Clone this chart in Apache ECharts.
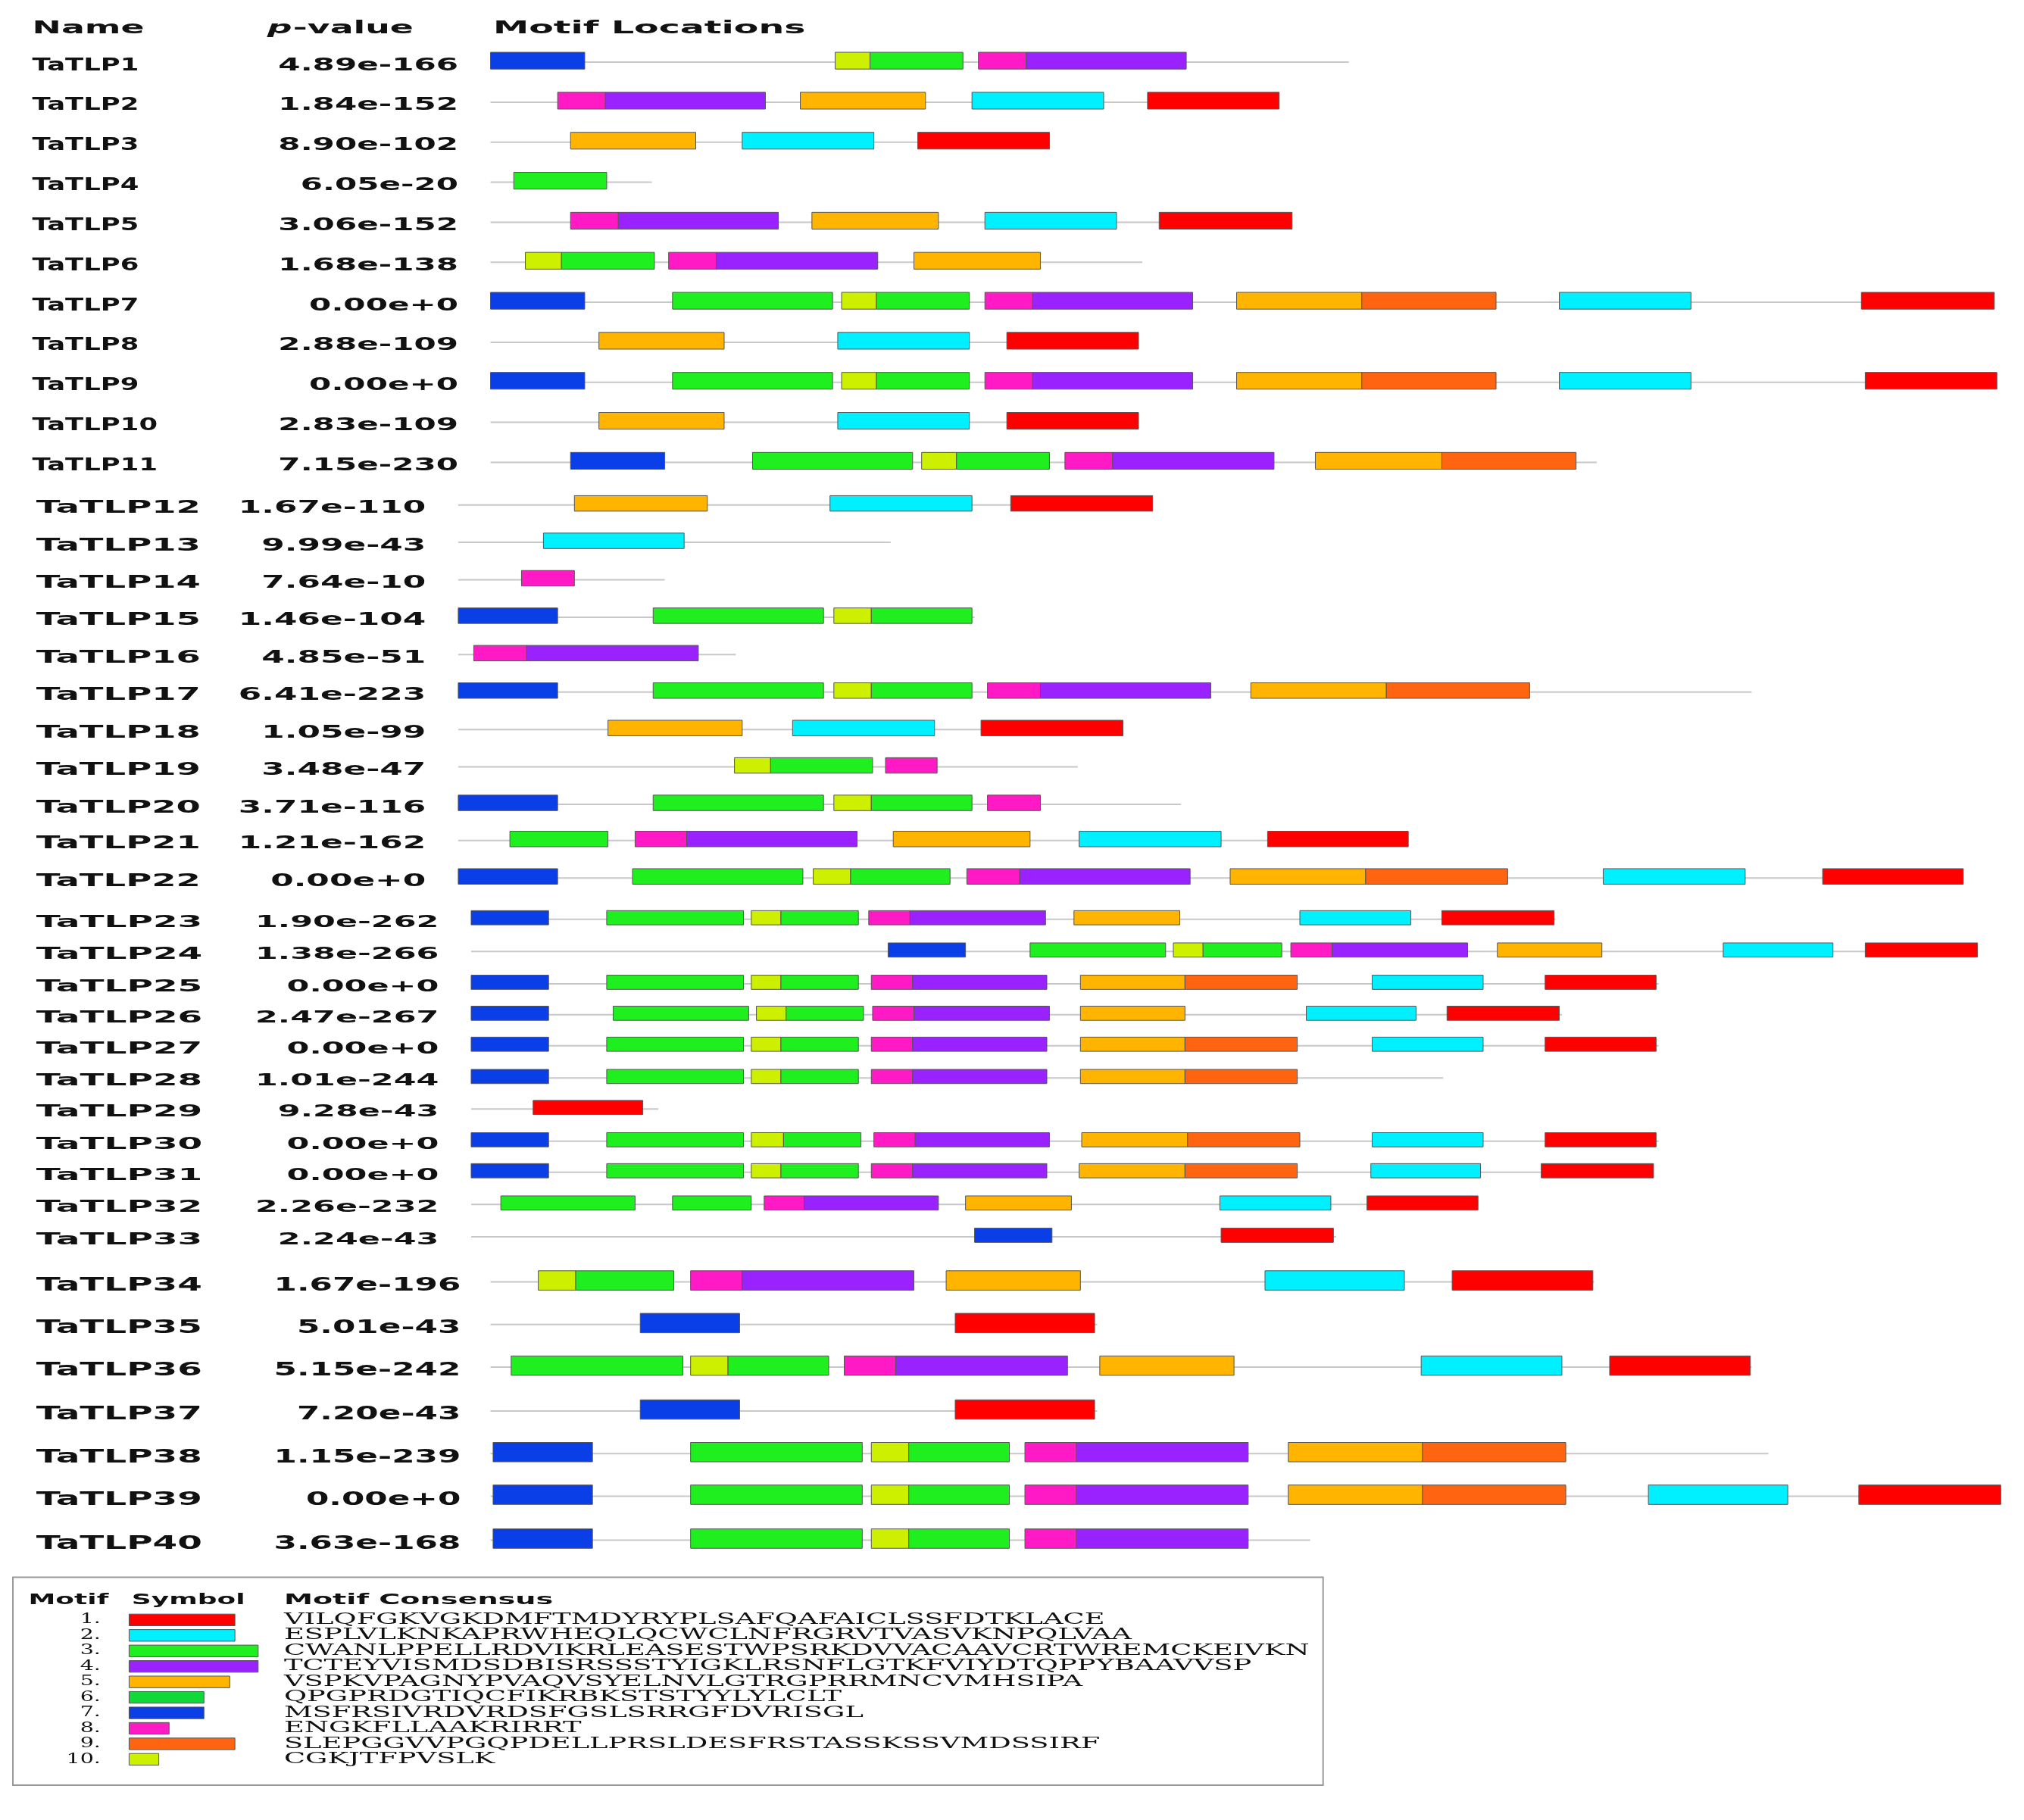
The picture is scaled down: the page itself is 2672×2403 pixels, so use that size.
<!DOCTYPE html>
<html>
<head>
<meta charset="utf-8">
<title>TaTLP motifs</title>
<script src="https://cdn.jsdelivr.net/npm/echarts@6/dist/echarts.min.js"></script>
<style>body{margin:0;background:#fff}#main{width:2672px;height:2403px}</style>
</head>
<body>
<div id="main"></div>
<script>
// units are picture units (image read at 1568 x 1410)
var names = [];
for (var i = 1; i <= 40; i++) names.push('TaTLP' + i);
var pvalues = ['4.89e-166','1.84e-152','8.90e-102','6.05e-20','3.06e-152','1.68e-138','0.00e+0','2.88e-109','0.00e+0','2.83e-109',
  '7.15e-230','1.67e-110','9.99e-43','7.64e-10','1.46e-104','4.85e-51','6.41e-223','1.05e-99','3.48e-47','3.71e-116',
  '1.21e-162','0.00e+0','1.90e-262','1.38e-266','0.00e+0','2.47e-267','0.00e+0','1.01e-244','9.28e-43','0.00e+0',
  '0.00e+0','2.26e-232','2.24e-43','1.67e-196','5.01e-43','5.15e-242','7.20e-43','1.15e-239','0.00e+0','3.63e-168'];
var rowY = [47,78,109,140,171,202,233,264,295,326,357,390,419,448,477,506,535,564,593,622,650,679,
  711,736,761,785,809,834,858,883,907,932,957,992,1025,1058,1092,1125,1158,1192];
var lineStart = [380,380,380,380,380,380,380,380,380,380,380,355,355,355,355,355,355,355,355,355,355,355,
  365,365,365,365,365,365,365,365,365,365,365,380,380,380,380,380,380,380];
var lineEnd = [1045,990,813,505,1000,885,1545,880,1547,880,1237,890,690,515,755,570,1357,870,835,915,1090,1521,
  1205,1532,1285,1210,1285,1118,510,1285,1281,1145,1035,1235,850,1357,850,1370,1550,1015];
// motif hits: [row, start, end, motif]
var motifs = [
 [1,380,453,7],[1,647,674,10],[1,674,746,3],[1,758,795,8],[1,795,919,4],
 [2,432,469,8],[2,469,593,4],[2,620,717,5],[2,753,855,2],[2,889,991,1],
 [3,442,539,5],[3,575,677,2],[3,711,813,1],
 [4,398,470,3],
 [5,442,479,8],[5,479,603,4],[5,629,727,5],[5,763,865,2],[5,898,1001,1],
 [6,407,435,10],[6,435,507,3],[6,518,555,8],[6,555,680,4],[6,708,806,5],
 [7,380,453,7],[7,521,645,3],[7,652,679,10],[7,679,751,3],[7,763,800,8],[7,800,924,4],[7,958,1055,5],[7,1055,1159,9],[7,1208,1310,2],[7,1442,1545,1],
 [8,464,561,5],[8,649,751,2],[8,780,882,1],
 [9,380,453,7],[9,521,645,3],[9,652,679,10],[9,679,751,3],[9,763,800,8],[9,800,924,4],[9,958,1055,5],[9,1055,1159,9],[9,1208,1310,2],[9,1445,1547,1],
 [10,464,561,5],[10,649,751,2],[10,780,882,1],
 [11,442,515,7],[11,583,707,3],[11,714,741,10],[11,741,813,3],[11,825,862,8],[11,862,987,4],[11,1019,1117,5],[11,1117,1221,9],
 [12,445,548,5],[12,643,753,2],[12,783,893,1],
 [13,421,530,2],
 [14,404,445,8],
 [15,355,432,7],[15,506,638,3],[15,646,675,10],[15,675,753,3],
 [16,367,408,8],[16,408,541,4],
 [17,355,432,7],[17,506,638,3],[17,646,675,10],[17,675,753,3],[17,765,806,8],[17,806,938,4],[17,969,1074,5],[17,1074,1185,9],
 [18,471,575,5],[18,614,724,2],[18,760,870,1],
 [19,569,597,10],[19,597,676,3],[19,686,726,8],
 [20,355,432,7],[20,506,638,3],[20,646,675,10],[20,675,753,3],[20,765,806,8],
 [21,395,471,3],[21,492,532,8],[21,532,664,4],[21,692,798,5],[21,836,946,2],[21,982,1091,1],
 [22,355,432,7],[22,490,622,3],[22,630,659,10],[22,659,736,3],[22,749,790,8],[22,790,922,4],[22,953,1058,5],[22,1058,1168,9],[22,1242,1352,2],[22,1412,1521,1],
 [23,365,425,7],[23,470,576,3],[23,582,605,10],[23,605,665,3],[23,673,705,8],[23,705,810,4],[23,832,914,5],[23,1007,1093,2],[23,1117,1204,1],
 [24,688,748,7],[24,798,903,3],[24,909,932,10],[24,932,993,3],[24,1000,1032,8],[24,1032,1137,4],[24,1160,1241,5],[24,1335,1420,2],[24,1445,1532,1],
 [25,365,425,7],[25,470,576,3],[25,582,605,10],[25,605,665,3],[25,675,707,8],[25,707,811,4],[25,837,918,5],[25,918,1005,9],[25,1063,1149,2],[25,1197,1283,1],
 [26,365,425,7],[26,475,580,3],[26,586,609,10],[26,609,669,3],[26,676,708,8],[26,708,813,4],[26,837,918,5],[26,1012,1097,2],[26,1121,1208,1],
 [27,365,425,7],[27,470,576,3],[27,582,605,10],[27,605,665,3],[27,675,707,8],[27,707,811,4],[27,837,918,5],[27,918,1005,9],[27,1063,1149,2],[27,1197,1283,1],
 [28,365,425,7],[28,470,576,3],[28,582,605,10],[28,605,665,3],[28,675,707,8],[28,707,811,4],[28,837,918,5],[28,918,1005,9],
 [29,413,498,1],
 [30,365,425,7],[30,470,576,3],[30,582,607,10],[30,607,667,3],[30,677,709,8],[30,709,813,4],[30,838,920,5],[30,920,1007,9],[30,1063,1149,2],[30,1197,1283,1],
 [31,365,425,7],[31,470,576,3],[31,582,605,10],[31,605,665,3],[31,675,707,8],[31,707,811,4],[31,836,918,5],[31,918,1005,9],[31,1062,1147,2],[31,1194,1281,1],
 [32,388,492,3],[32,521,582,3],[32,592,623,8],[32,623,727,4],[32,748,830,5],[32,945,1031,2],[32,1059,1145,1],
 [33,755,815,7],[33,946,1033,1],
 [34,417,446,10],[34,446,522,3],[34,535,575,8],[34,575,708,4],[34,733,837,5],[34,980,1088,2],[34,1125,1234,1],
 [35,496,573,7],[35,740,848,1],
 [36,396,529,3],[36,535,564,10],[36,564,642,3],[36,654,694,8],[36,694,827,4],[36,852,956,5],[36,1101,1210,2],[36,1247,1356,1],
 [37,496,573,7],[37,740,848,1],
 [38,382,459,7],[38,535,668,3],[38,675,704,10],[38,704,782,3],[38,794,834,8],[38,834,967,4],[38,998,1102,5],[38,1102,1213,9],
 [39,382,459,7],[39,535,668,3],[39,675,704,10],[39,704,782,3],[39,794,834,8],[39,834,967,4],[39,998,1102,5],[39,1102,1213,9],[39,1277,1385,2],[39,1440,1550,1],
 [40,382,459,7],[40,535,668,3],[40,675,704,10],[40,704,782,3],[40,794,834,8],[40,834,967,4]
];
var motifColors = ['#ff0000','#00f0ff','#1fef1f','#9922ff','#ffb400','#10d838','#0a3ee6','#ff1ac6','#ff6410','#ccf000'];
var legendWidths = [82,82,100,100,78,58,58,31,82,23];
var consensus = ['VILQFGKVGKDMFTMDYRYPLSAFQAFAICLSSFDTKLACE','ESPLVLKNKAPRWHEQLQCWCLNFRGRVTVASVKNPQLVAA',
 'CWANLPPELLRDVIKRLEASESTWPSRKDVVACAAVCRTWREMCKEIVKN','TCTEYVISMDSDBISRSSSTYIGKLRSNFLGTKFVIYDTQPPYBAAVVSP',
 'VSPKVPAGNYPVAQVSYELNVLGTRGPRRMNCVMHSIPA','QPGPRDGTIQCFIKRBKSTSTYYLYLCLT','MSFRSIVRDVRDSFGSLSRRGFDVRISGL',
 'ENGKFLLAAKRIRRT','SLEPGGVVPGQPDELLPRSLDESFRSTASSKSSVMDSSIRF','CGKJTFPVSLK'];

var S = 2672 / 1568;
function grp(r) { return r <= 11 ? 0 : r <= 22 ? 1 : r <= 33 ? 2 : 3; }
var barH = [13, 12, 11, 15];
var nameSize = [13, 13, 12, 14.5];
var nameSx = [1.6, 2.1, 2.3, 1.9];
var pSx = [1.9, 1.98, 2.1, 1.77];
var nameX = [25, 28, 28, 28];
var pRight = [355, 330, 340, 357];

var myChart = echarts.init(document.getElementById('main'));
var txt = function (x, y, s, size, opt) {
  opt = opt || {};
  return { type: 'text', x: x, y: y, scaleX: opt.sx || 1.3, scaleY: 1,
    style: { x: 0, y: 0, text: s, fill: '#111', font: (opt.style || '') + ' ' + (opt.w || 'bold') + ' ' + (size * S) + 'px ' + (opt.f || '"DejaVu Sans"'),
      textAlign: opt.align || 'left', textVerticalAlign: 'middle' } };
};

var option = {
  animation: false,
  grid: { left: 0, right: 0, top: 0, bottom: 0 },
  xAxis: { type: 'value', min: 0, max: 1568, show: false },
  yAxis: { type: 'value', min: 0, max: 1410, inverse: true, show: false },
  series: [
    { // rows: line, name, p-value
      type: 'custom',
      data: rowY.map(function (y, i) { return [lineStart[i], lineEnd[i], y, i]; }),
      renderItem: function (params, api) {
        var i = api.value(3), g = grp(i + 1);
        var a = api.coord([api.value(0), api.value(2)]), b = api.coord([api.value(1), api.value(2)]);
        var ty = api.coord([0, api.value(2) + 4])[1];
        return { type: 'group', children: [
          { type: 'line', shape: { x1: a[0], y1: a[1] + 2, x2: b[0], y2: b[1] + 2 }, style: { stroke: '#c8c8c8', lineWidth: 2 } },
          txt(api.coord([nameX[g], 0])[0], ty, names[i], nameSize[g], { sx: nameSx[g] }),
          txt(api.coord([pRight[g], 0])[0], ty, pvalues[i], nameSize[g], { align: 'right', sx: pSx[g] })
        ] };
      }
    },
    { // motif boxes
      type: 'custom',
      data: motifs.map(function (m) { return [m[1], m[2], rowY[m[0] - 1], m[3], m[0]]; }),
      renderItem: function (params, api) {
        var h = barH[grp(api.value(4))];
        var a = api.coord([api.value(0), api.value(2) - h / 2]), b = api.coord([api.value(1), api.value(2) + h / 2]);
        return { type: 'rect', shape: { x: a[0], y: a[1], width: b[0] - a[0], height: b[1] - a[1] },
          style: { fill: motifColors[api.value(3) - 1], stroke: '#555', lineWidth: 1 } };
      }
    },
    { // legend
      type: 'custom',
      data: legendWidths.map(function (w, i) { return [100, 100 + w, 1255 + i * 12, i]; }),
      renderItem: function (params, api) {
        var i = api.value(3);
        var a = api.coord([api.value(0), api.value(2) - 4.5]), b = api.coord([api.value(1), api.value(2) + 4.5]);
        var ch = [
          { type: 'rect', shape: { x: a[0], y: a[1], width: b[0] - a[0], height: b[1] - a[1] }, style: { fill: motifColors[i], stroke: '#555', lineWidth: 1 } },
          txt(api.coord([78, 0])[0], (a[1] + b[1]) / 2, (i + 1) + '.', 10.5, { w: 'normal', f: '"DejaVu Serif"', align: 'right', sx: 1.6 }),
          txt(api.coord([220, 0])[0], (a[1] + b[1]) / 2, consensus[i], 11.5, { w: 'normal', f: '"DejaVu Serif"', sx: 1.88 })
        ];
        if (i === 0) {
          var p = api.coord([10, 1222]), q = api.coord([1025, 1383]);
          ch.push({ type: 'rect', shape: { x: p[0], y: p[1], width: q[0] - p[0], height: q[1] - p[1] }, style: { fill: 'none', stroke: '#999', lineWidth: 2 } });
          var hy = api.coord([0, 1240])[1];
          ch.push(txt(api.coord([22, 0])[0], hy, 'Motif', 11.5, { sx: 1.84 }));
          ch.push(txt(api.coord([102, 0])[0], hy, 'Symbol', 11.5, { sx: 1.84 }));
          ch.push(txt(api.coord([220, 0])[0], hy, 'Motif Consensus', 11.5, { sx: 1.95 }));
          var ty = api.coord([0, 22])[1];
          ch.push(txt(api.coord([25, 0])[0], ty, 'Name', 14, { sx: 1.92 }));
          ch.push(txt(api.coord([207, 0])[0], ty, 'p', 14, { sx: 1.92, style: 'italic' }));
          ch.push(txt(api.coord([227, 0])[0], ty, '-value', 14, { sx: 1.92 }));
          ch.push(txt(api.coord([382, 0])[0], ty, 'Motif Locations', 14, { sx: 1.99 }));
        }
        return { type: 'group', children: ch };
      }
    }
  ]
};
myChart.setOption(option);
</script>
</body>
</html>
